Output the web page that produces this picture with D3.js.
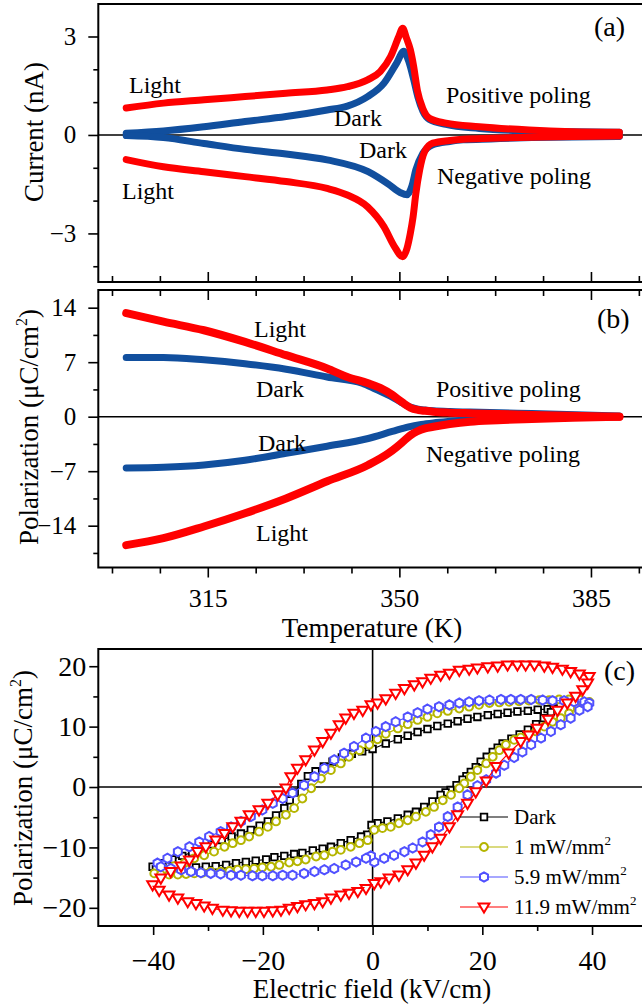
<!DOCTYPE html>
<html><head><meta charset="utf-8">
<script src="https://cdn.jsdelivr.net/npm/d3@7"></script>
<style>
html,body{margin:0;padding:0;background:#fff;overflow:hidden;}
svg text{font-family:"Liberation Serif","Times New Roman",Times,serif;fill:#000;}
</style></head><body>
<svg id="chart" width="642" height="1008" font-family="Liberation Serif, Times New Roman, Times, serif"></svg>
<script>
// ---------- Panel (a): pyroelectric current (nA) vs temperature (K)
const curLightPosT = [300.1,306.9,314.3,321.8,329.3,336.8,340.5,344.2,346.5,348.4,349.9,350.6,351.3,352.0,352.6,353.3,354.3,355.5,358.5,364.6,373.7,381.6,390.2];
const curLightPosI = [0.82,0.97,1.07,1.17,1.27,1.37,1.47,1.68,1.93,2.39,3.0,3.25,2.95,2.6,2.1,1.35,0.8,0.51,0.36,0.25,0.15,0.1,0.08];
const curDarkPosT = [300.1,306.9,314.3,321.8,329.3,336.8,340.5,344.2,347.2,349.5,350.8,351.7,352.6,353.4,354.3,355.5,358.5,364.6,373.7,381.6,390.2];
const curDarkPosI = [0.05,0.12,0.25,0.41,0.56,0.76,0.88,1.17,1.58,2.19,2.55,2.25,1.7,1.15,0.72,0.47,0.32,0.2,0.12,0.1,0.08];
const curLightNegT = [300.1,306.9,314.3,321.8,329.3,336.8,340.5,344.2,347.2,349.1,350.6,351.4,352.0,352.5,353.0,353.7,354.6,356.1,359.2,361.6,366.7,374.2,381.6,390.2];
const curLightNegI = [-0.75,-0.97,-1.12,-1.27,-1.42,-1.63,-1.83,-2.19,-2.8,-3.4,-3.71,-3.45,-3.0,-2.5,-1.8,-1.07,-0.51,-0.25,-0.17,-0.13,-0.1,-0.07,-0.05,-0.03];
const curDarkNegT = [300.1,306.9,314.3,321.8,329.3,336.8,344.3,348.0,350.2,351.4,352.3,353.0,354.3,356.1,359.2,361.6,366.7,374.2,381.6,390.2];
const curDarkNegI = [-0.02,-0.08,-0.26,-0.44,-0.58,-0.76,-1.12,-1.5,-1.76,-1.82,-1.55,-1.07,-0.56,-0.3,-0.2,-0.15,-0.12,-0.08,-0.06,-0.05];

// ---------- Panel (b): polarization (uC/cm2) vs temperature (K)
const polLightPosT = [300.1,306.9,314.3,321.8,329.3,336.8,340.5,344.3,346.5,348.7,350.2,351.0,352.0,353.5,354.7,356.2,359.2,362.9,374.2,390.2];
const polLightPosP = [13.3,12.2,11.1,9.6,7.9,6.2,5.1,4.3,3.7,2.8,2.0,1.6,1.15,0.85,0.75,0.64,0.52,0.44,0.22,0.0];
const polDarkPosT = [300.1,306.9,314.3,321.8,329.3,336.8,343.2,345.7,348.7,350.2,351.7,353.2,354.7,356.2,359.2,362.9,374.2,390.2];
const polDarkPosP = [7.6,7.6,7.3,6.8,6.1,5.1,4.3,3.5,2.5,1.9,1.3,1.0,0.85,0.75,0.65,0.6,0.4,0.1];
const polLightNegT = [300.1,306.9,314.3,321.8,329.3,336.8,344.3,348.0,349.5,351.0,352.2,353.2,354.7,356.2,359.2,362.9,368.0,374.2,381.6,390.2];
const polLightNegP = [-16.5,-15.6,-14.1,-12.4,-10.5,-8.3,-6.2,-4.7,-3.9,-3.0,-2.3,-1.9,-1.5,-1.3,-0.95,-0.64,-0.45,-0.3,-0.15,0.0];
const polDarkNegT = [300.1,306.9,314.3,321.8,329.3,336.8,344.3,348.7,351.7,354.0,356.2,359.2,362.9,368.0,374.2,390.2];
const polDarkNegP = [-6.6,-6.5,-6.2,-5.6,-4.7,-3.8,-2.8,-1.9,-1.3,-1.0,-0.8,-0.6,-0.4,-0.3,-0.2,0.0];

// ---------- Panel (c): P-E hysteresis loops (kV/cm, uC/cm2)
const darkE = [-40.1,-38.3,-36.5,-34.7,-32.9,-31.1,-29.3,-27.5,-25.7,-24.0,-22.2,-20.6,-19.1,-17.6,-16.1,-15.1,-14.2,-13.0,-11.8,-10.4,-8.9,-7.3,-5.6,-3.8,-1.9,0.0,2.4,4.6,6.4,8.2,10.0,11.8,13.7,15.5,17.3,19.1,21.0,22.8,24.6,26.4,28.3,30.1,31.9,33.0,
  32.5,31.2,29.8,28.3,26.8,25.3,23.7,22.8,21.9,20.8,19.7,18.8,17.9,17.1,16.4,15.3,14.2,13.3,12.4,10.9,9.4,7.9,6.4,4.6,2.7,0.9,-0.2,-1.0,-2.1,-4.0,-5.8,-7.6,-9.1,-10.9,-12.8,-14.3,-16.1,-17.9,-19.4,-21.3,-23.1,-24.9,-26.7,-28.6,-30.4,-32.2,-34.0,-35.9,-37.7,-39.5];
const darkP = [-13.2,-12.6,-12.0,-11.4,-10.8,-10.1,-9.5,-8.8,-8.2,-7.7,-7.1,-6.4,-5.7,-4.7,-3.5,-2.2,-0.9,0.5,1.8,2.6,3.4,4.2,4.9,5.5,5.9,6.3,7.2,7.9,8.5,9.1,9.6,10.1,10.5,10.9,11.3,11.6,11.9,12.1,12.3,12.5,12.6,12.8,12.9,13.0,
  12.4,11.4,10.4,9.5,8.7,8.0,7.2,6.5,5.8,5.0,4.2,3.3,2.5,1.8,1.2,0.3,-0.5,-0.9,-1.3,-2.4,-3.3,-4.1,-4.6,-5.2,-5.7,-6.0,-6.3,-7.9,-8.2,-8.8,-9.3,-9.9,-10.2,-10.5,-10.9,-11.1,-11.4,-11.6,-12.0,-12.2,-12.4,-12.6,-12.9,-13.1,-13.2,-13.3,-13.4,-13.5,-13.6,-13.6];
const mw1E = [-39.8,-38.0,-36.2,-34.3,-32.5,-30.7,-28.9,-27.0,-25.5,-24.0,-22.5,-20.7,-19.1,-17.6,-15.8,-14.3,-12.8,-11.2,-9.4,-7.6,-5.8,-4.3,-2.4,-0.6,0.9,2.4,4.6,6.4,8.2,10.0,11.8,13.7,15.8,17.6,19.4,21.3,23.1,24.9,26.7,28.5,30.4,32.2,34.0,35.8,37.7,39.5,
  37.4,35.8,34.3,32.8,31.3,29.8,28.3,27.0,25.8,24.3,23.1,21.9,20.7,19.1,17.9,16.7,15.8,14.3,12.8,11.2,9.7,7.9,6.4,4.8,3.3,1.8,0.3,-0.9,-2.4,-4.0,-5.8,-7.3,-8.8,-10.3,-12.2,-13.7,-15.2,-17.0,-18.5,-20.1,-21.6,-23.1,-24.6,-26.1,-27.7,-29.5,-31.0,-32.5,-34.0,-35.5,-37.1,-38.6];
const mw1P = [-14.3,-13.6,-13.1,-12.6,-11.8,-11.3,-10.7,-9.9,-9.3,-8.8,-8.2,-7.4,-6.6,-5.7,-4.6,-3.5,-1.9,-0.2,1.4,2.8,3.9,5.0,6.1,7.0,7.9,8.8,9.7,10.4,11.1,11.6,12.2,12.6,13.0,13.3,13.6,13.9,14.0,14.1,14.2,14.3,14.4,14.4,14.5,14.5,14.5,14.1,
  13.0,12.2,11.4,10.8,10.0,9.2,8.6,8.2,7.8,7.0,6.1,5.0,3.9,2.8,1.7,0.6,-0.2,-1.3,-2.2,-3.3,-4.1,-4.9,-5.5,-6.0,-6.6,-6.8,-7.1,-8.8,-9.3,-9.9,-10.4,-10.7,-11.3,-11.5,-12.0,-12.3,-12.5,-12.9,-13.2,-13.3,-13.5,-13.6,-13.7,-13.9,-14.0,-14.0,-14.2,-14.3,-14.4,-14.5,-14.5,-14.5];
const mw59E = [-39.2,-37.4,-35.5,-33.4,-31.6,-29.8,-27.7,-25.8,-24.0,-22.2,-20.1,-18.2,-16.4,-14.6,-12.5,-10.6,-8.8,-7.0,-5.2,-3.4,-1.2,0.6,2.4,4.2,6.4,8.2,10.0,12.1,14.0,15.8,17.6,19.4,21.3,23.4,25.2,27.0,28.9,31.0,32.8,34.9,36.7,38.6,39.5,
  39.2,37.7,36.1,34.3,32.5,30.7,28.9,27.3,25.8,24.0,22.5,20.7,19.1,17.3,15.5,13.7,12.1,10.6,9.1,7.3,5.8,3.9,2.1,0.3,-0.3,-1.2,-3.0,-4.9,-7.0,-8.8,-10.6,-12.5,-14.6,-16.4,-18.2,-20.1,-21.9,-24.0,-25.8,-27.7,-29.5,-31.3,-33.1,-34.9,-36.8,-38.6];
const mw59P = [-12.6,-11.8,-10.7,-9.9,-9.1,-8.2,-7.4,-6.6,-5.7,-4.9,-3.8,-2.7,-1.9,-1.0,0.3,1.7,3.1,4.5,5.6,6.7,8.1,9.2,10.0,10.8,11.6,12.3,12.9,13.3,13.6,13.9,14.1,14.3,14.4,14.5,14.5,14.5,14.5,14.4,14.3,14.3,14.1,14.1,13.9,
  13.3,12.7,11.4,10.3,9.2,8.1,7.0,5.8,4.9,3.6,2.3,1.2,0.2,-1.3,-3.3,-4.9,-6.6,-7.9,-9.1,-10.1,-10.7,-11.3,-11.8,-12.4,-11.4,-11.8,-12.4,-12.9,-13.5,-13.7,-14.0,-14.3,-14.6,-14.6,-14.7,-14.7,-14.7,-14.6,-14.6,-14.4,-14.3,-14.2,-14.0,-13.7,-13.5,-13.2];
const mw119E = [-40.1,-38.6,-36.8,-34.9,-33.4,-31.9,-30.4,-28.6,-27.0,-25.5,-24.0,-22.5,-20.7,-19.1,-17.3,-15.8,-14.9,-13.7,-12.2,-10.6,-9.1,-7.6,-6.1,-4.9,-3.4,-1.8,-0.3,0.9,2.4,4.2,5.8,7.6,9.1,10.6,12.4,14.0,15.8,17.6,19.1,21.0,22.8,24.6,26.4,27.9,29.5,31.3,32.8,34.6,36.1,37.7,39.5,
  39.2,38.3,37.0,35.5,33.7,32.0,30.0,28.5,27.0,24.8,22.5,20.7,18.8,17.3,15.5,14.0,12.4,10.9,9.4,7.9,6.4,4.8,3.0,1.5,0.3,-1.2,-2.7,-4.3,-5.8,-7.6,-9.1,-10.6,-12.2,-13.7,-15.2,-16.7,-18.2,-19.8,-21.3,-22.8,-24.3,-25.8,-27.3,-29.2,-30.7,-32.2,-33.7,-35.5,-37.1,-38.9];
const mw119P = [-16.2,-15.1,-14.0,-13.1,-12.1,-10.7,-9.9,-8.8,-7.7,-6.6,-5.7,-4.6,-3.8,-2.7,-1.3,-0.2,1.7,3.1,4.5,6.1,7.5,8.9,10.3,11.4,12.2,12.7,13.6,13.9,14.6,15.5,16.3,16.9,17.4,18.0,18.5,18.8,19.3,19.5,19.7,19.9,20.0,20.2,20.2,20.2,20.2,20.0,19.8,19.5,19.1,18.7,18.3,
  17.2,16.1,15.0,13.9,12.7,11.2,9.7,8.6,7.5,5.6,3.4,1.0,-0.8,-2.7,-4.6,-6.6,-8.5,-9.9,-11.3,-12.6,-13.7,-14.6,-15.1,-15.7,-16.0,-16.8,-17.3,-17.6,-17.9,-18.4,-19.0,-19.3,-19.5,-19.8,-20.1,-20.4,-20.5,-20.6,-20.6,-20.6,-20.6,-20.5,-20.4,-20.1,-19.7,-19.3,-19.0,-18.4,-17.9,-17.1];

// ---------- tick values and labels
const tempMajor = [315, 350, 385];
const tempMinor = [297.5, 306.25, 323.75, 332.5, 341.25, 358.75, 367.5, 376.25, 393.75];
const curMajor = [-3, 0, 3];
const curMinor = [-4, -2, -1, 1, 2];
const polMajor = [-14, -7, 0, 7, 14];
const polMinor = [-17.5, -10.5, -3.5, 3.5, 10.5];
const fieldMajor = [-40, -20, 0, 20, 40];
const fieldMinor = [-30, -10, 10, 30];
const loopMajor = [-20, -10, 0, 10, 20];
const loopMinor = [-15, -5, 5, 15];
const legendNames = ["Dark", "1 mW/mm", "5.9 mW/mm", "11.9 mW/mm"];

// ---------- drawing
const svg = d3.select("#chart");
const L = 98.3;
const RED = "#ff0000", NAVY = "#114f9e", BLK = "#000000", OLIVE = "#b5b500", VIOLET = "#5050ff";
const SERIF = "Liberation Serif, Times New Roman, Times, serif";

const xT = d3.scaleLinear().domain([295, 395]).range([L, 645.7]);
const yA = d3.scaleLinear().domain([-4.48, 3.99]).range([282, 4]);
const yB = d3.scaleLinear().domain([-19.37, 16.27]).range([567.5, 290]);
const xE = d3.scaleLinear().domain([-50, 50]).range([L, 646.9]);
const yC = d3.scaleLinear().domain([-23.01, 22.85]).range([926, 649]);

function styleAxis(g, fs) {
  g.select(".domain").remove();
  g.attr("font-family", SERIF);
  g.selectAll(".tick line").attr("stroke", "#000").attr("stroke-width", 1.6);
  g.selectAll(".tick text").style("font-size", fs + "px").attr("fill", "#000");
}
function frame(x0, y0, x1, y1) {
  svg.append("rect").attr("x", x0).attr("y", y0).attr("width", x1 - x0).attr("height", y1 - y0)
    .attr("fill", "none").attr("stroke", "#000").attr("stroke-width", 2);
}
function curve(xs, ys, xScale, yScale, color, w) {
  const line = d3.line().x(i => xScale(xs[i])).y(i => yScale(ys[i])).curve(d3.curveMonotoneX);
  svg.append("path").attr("d", line(d3.range(xs.length))).attr("fill", "none")
    .attr("stroke", color).attr("stroke-width", w).attr("stroke-linecap", "round").attr("stroke-linejoin", "round");
}
function text(x, y, s, fs, anchor) {
  return svg.append("text").attr("x", x).attr("y", y).text(s).style("font-size", fs + "px")
    .attr("text-anchor", anchor || "start");
}

// ===== Panel (a)
frame(L, 4, 645.7, 282);
svg.append("line").attr("x1", L).attr("x2", 645.7).attr("y1", yA(0)).attr("y2", yA(0)).attr("stroke", "#000").attr("stroke-width", 1.6);
styleAxis(svg.append("g").attr("transform", `translate(${L},0)`).call(d3.axisLeft(yA).tickValues(curMajor).tickSize(10).tickPadding(12).tickFormat(d3.format("d"))), 25);
styleAxis(svg.append("g").attr("transform", `translate(${L},0)`).call(d3.axisLeft(yA).tickValues(curMinor).tickSize(5).tickFormat("")), 25);
styleAxis(svg.append("g").attr("transform", `translate(0,282)`).call(d3.axisBottom(xT).tickValues(tempMajor).tickSize(-10).tickFormat("")), 25);
styleAxis(svg.append("g").attr("transform", `translate(0,282)`).call(d3.axisBottom(xT).tickValues(tempMinor).tickSize(-6).tickFormat("")), 25);

curve(curDarkPosT, curDarkPosI, xT, yA, NAVY, 7);
curve(curDarkNegT, curDarkNegI, xT, yA, NAVY, 7);
curve(curLightPosT, curLightPosI, xT, yA, RED, 7);
curve(curLightNegT, curLightNegI, xT, yA, RED, 7);

text(129, 93, "Light", 24);
text(334, 126, "Dark", 24);
text(446, 103, "Positive poling", 24);
text(359, 158, "Dark", 24);
text(437, 184, "Negative poling", 24);
text(122, 199, "Light", 24);
text(594, 36, "(a)", 28);
svg.append("text").attr("transform", "translate(43,132) rotate(-90)").attr("text-anchor", "middle")
  .style("font-size", "27px").text("Current (nA)");

// ===== Panel (b)
frame(L, 290, 645.7, 567.5);
svg.append("line").attr("x1", L).attr("x2", 645.7).attr("y1", yB(0)).attr("y2", yB(0)).attr("stroke", "#000").attr("stroke-width", 1.6);
styleAxis(svg.append("g").attr("transform", `translate(${L},0)`).call(d3.axisLeft(yB).tickValues(polMajor).tickSize(10).tickPadding(12).tickFormat(d3.format("d"))), 25);
styleAxis(svg.append("g").attr("transform", `translate(${L},0)`).call(d3.axisLeft(yB).tickValues(polMinor).tickSize(5).tickFormat("")), 25);
styleAxis(svg.append("g").attr("transform", `translate(0,290)`).call(d3.axisTop(xT).tickValues(tempMajor).tickSize(-10).tickFormat("")), 25);
styleAxis(svg.append("g").attr("transform", `translate(0,290)`).call(d3.axisTop(xT).tickValues(tempMinor).tickSize(-6).tickFormat("")), 25);
styleAxis(svg.append("g").attr("transform", `translate(0,567.5)`).call(d3.axisBottom(xT).tickValues(tempMajor).tickSize(10).tickPadding(11).tickFormat(d3.format("d"))), 26);
styleAxis(svg.append("g").attr("transform", `translate(0,567.5)`).call(d3.axisBottom(xT).tickValues(tempMinor).tickSize(6).tickFormat("")), 26);

curve(polDarkPosT, polDarkPosP, xT, yB, NAVY, 7);
curve(polDarkNegT, polDarkNegP, xT, yB, NAVY, 7);
curve(polLightPosT, polLightPosP, xT, yB, RED, 8);
curve(polLightNegT, polLightNegP, xT, yB, RED, 8);

text(254, 337, "Light", 24);
text(256, 397, "Dark", 24);
text(436, 397, "Positive poling", 24);
text(258, 451, "Dark", 24);
text(426, 462, "Negative poling", 24);
text(256, 541, "Light", 24);
text(597, 328, "(b)", 28);
const tb = svg.append("text").attr("transform", "translate(38,427) rotate(-90)").attr("text-anchor", "middle").style("font-size", "27px");
tb.append("tspan").text("Polarization (\u03bcC/cm");
tb.append("tspan").text("2").style("font-size", "16px").attr("dy", -11);
tb.append("tspan").text(")").attr("dy", 11);
text(372, 637, "Temperature (K)", 27, "middle");

// ===== Panel (c)
frame(L, 649, 646.9, 926);
svg.append("line").attr("x1", L).attr("x2", 646.9).attr("y1", yC(0)).attr("y2", yC(0)).attr("stroke", "#000").attr("stroke-width", 1.6);
svg.append("line").attr("x1", xE(0)).attr("x2", xE(0)).attr("y1", 649).attr("y2", 926).attr("stroke", "#000").attr("stroke-width", 1.6);
styleAxis(svg.append("g").attr("transform", `translate(${L},0)`).call(d3.axisLeft(yC).tickValues(loopMajor).tickSize(9).tickPadding(3).tickFormat(d3.format("d"))), 28);
styleAxis(svg.append("g").attr("transform", `translate(${L},0)`).call(d3.axisLeft(yC).tickValues(loopMinor).tickSize(5).tickFormat("")), 28);
styleAxis(svg.append("g").attr("transform", `translate(0,926)`).call(d3.axisBottom(xE).tickValues(fieldMajor).tickSize(9).tickPadding(15).tickFormat(d3.format("d"))), 28);
styleAxis(svg.append("g").attr("transform", `translate(0,926)`).call(d3.axisBottom(xE).tickValues(fieldMinor).tickSize(5).tickFormat("")), 28);

const shapes = {
  square: "M-3.3,-3.3H3.3V3.3H-3.3Z",
  circle: d3.symbol(d3.symbolCircle, Math.PI * 3.9 * 3.9)(),
  hexagon: (() => { const r = 4.6; const p = d3.range(6).map(k => { const a = Math.PI / 3 * k - Math.PI / 2; return [r * Math.cos(a), r * Math.sin(a)]; }); return "M" + p.map(q => q.join(",")).join("L") + "Z"; })(),
  triangle: "M-5.4,-3.6L5.4,-3.6L0,5.6Z"
};
function loop(E, P, color, shape, sw) {
  const line = d3.line().x(i => xE(E[i])).y(i => yC(P[i]));
  const idx = d3.range(E.length);
  svg.append("path").attr("d", line(idx)).attr("fill", "none").attr("stroke", color).attr("stroke-width", 1.2);
  svg.append("g").selectAll("path").data(idx).join("path")
    .attr("transform", i => `translate(${xE(E[i])},${yC(P[i])})`)
    .attr("d", shapes[shape]).attr("fill", "#fff").attr("stroke", color).attr("stroke-width", sw);
}
loop(darkE, darkP, BLK, "square", 1.8);
loop(mw1E, mw1P, OLIVE, "circle", 2);
loop(mw59E, mw59P, VIOLET, "hexagon", 2);
loop(mw119E, mw119P, RED, "triangle", 2);

// legend
const legColors = [BLK, OLIVE, VIOLET, RED];
const legShapes = ["square", "circle", "hexagon", "triangle"];
const legY = [817, 847, 877, 907];
legendNames.forEach((n, k) => {
  svg.append("line").attr("x1", 460).attr("x2", 508).attr("y1", legY[k]).attr("y2", legY[k]).attr("stroke", legColors[k]).attr("stroke-width", 1.2);
  svg.append("path").attr("transform", `translate(484,${legY[k]})`).attr("d", shapes[legShapes[k]])
    .attr("fill", "#fff").attr("stroke", legColors[k]).attr("stroke-width", legShapes[k] === "square" ? 1.8 : 2);
  const t = svg.append("text").attr("x", 514).attr("y", legY[k] + 7).style("font-size", "21px");
  t.append("tspan").text(n);
  if (k > 0) t.append("tspan").text("2").style("font-size", "13px").attr("dy", -9);
});

text(604, 680, "(c)", 28);
const tc = svg.append("text").attr("transform", "translate(32,788) rotate(-90)").attr("text-anchor", "middle").style("font-size", "27px");
tc.append("tspan").text("Polarization (\u03bcC/cm");
tc.append("tspan").text("2").style("font-size", "16px").attr("dy", -11);
tc.append("tspan").text(")").attr("dy", 11);
text(372, 998, "Electric field (kV/cm)", 27, "middle");
</script>
</body></html>
